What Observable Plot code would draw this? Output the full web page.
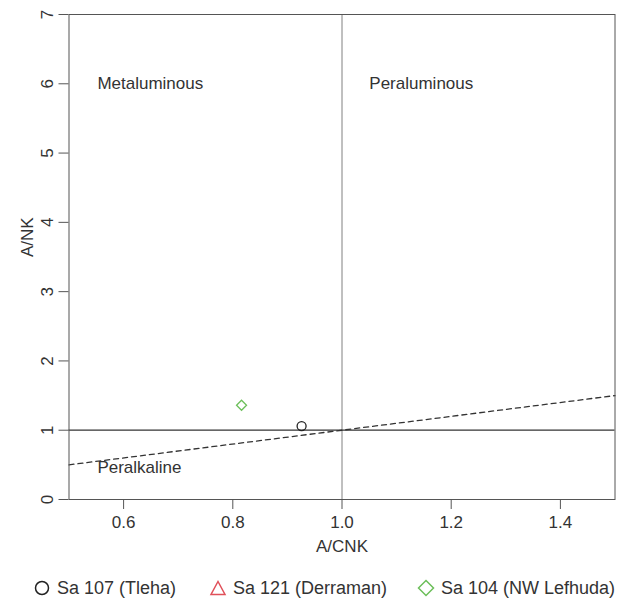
<!DOCTYPE html>
<html>
<head>
<meta charset="utf-8">
<script src="https://cdn.jsdelivr.net/npm/d3@7"></script>
<script src="https://cdn.jsdelivr.net/npm/@observablehq/plot@0.6"></script>
<style>
  body { margin: 0; background: #fff; font-family: "Liberation Sans", Arial, sans-serif; }
  #legend { position: relative; width: 617px; height: 40px; font-size: 18px; color: #333; overflow: hidden; }
  .item { position: absolute; top: 0; height: 40px; display: flex; align-items: center; white-space: nowrap; }
  .item svg { margin-right: 6px; }
</style>
</head>
<body>
<div id="chart"></div>
<div id="legend"></div>
<script>
// Samples (A/CNK, A/NK); Sa 121 not visible within the plotted range
const samples = ["Sa 107 (Tleha)", "Sa 121 (Derraman)", "Sa 104 (NW Lefhuda)"];
const sampleACNK = [0.926, null, 0.816];
const sampleANK = [1.06, null, 1.36];
const sampleSymbols = ["circle", "triangle", "diamond2"];
const sampleColors = ["#222222", "#e0505a", "#6cbf5a"];

const xTicks = [0.6, 0.8, 1.0, 1.2, 1.4];
const yTicks = [0, 1, 2, 3, 4, 5, 6, 7];

// Field names and their anchor positions (data units)
const fieldNames = ["Metaluminous", "Peraluminous", "Peralkaline"];
const fieldACNK = [0.552, 1.05, 0.552];
const fieldANK = [6, 6, 0.46];

// Dashed divide line A/NK = A/CNK
const divideACNK = [0.5, 1.5];
const divideANK = [0.5, 1.5];

const points = samples.map((s, i) => ({name: s, x: sampleACNK[i], y: sampleANK[i], color: sampleColors[i]}))
  .filter(d => d.x != null);
const fields = fieldNames.map((t, i) => ({t, x: fieldACNK[i], y: fieldANK[i]}));
const divide = divideACNK.map((x, i) => ({x, y: divideANK[i]}));

const plot = Plot.plot({
  width: 617,
  height: 568,
  marginLeft: 68.5,
  marginRight: 2.5,
  marginTop: 14,
  marginBottom: 69,
  style: {fontFamily: "'Liberation Sans', Arial, sans-serif", fontSize: "17px", color: "#333", background: "#fff"},
  x: {domain: [0.5, 1.5]},
  y: {domain: [0, 7]},
  symbol: {domain: samples, range: sampleSymbols},
  marks: [
    Plot.ruleX([1], {stroke: "#808080", strokeWidth: 1}),
    Plot.ruleY([1], {stroke: "#333", strokeWidth: 1.3}),
    Plot.line(divide, {x: "x", y: "y", stroke: "#333", strokeWidth: 1.3, strokeDasharray: "5,4"}),
    Plot.dot(points, {x: "x", y: "y", symbol: "name", stroke: "color", r: 4.5, strokeWidth: 1.3}),
    Plot.text(fields, {x: "x", y: "y", text: "t", textAnchor: "start", fill: "#333", fontSize: 17}),
    Plot.frame({stroke: "#555"}),
    Plot.axisX({ticks: xTicks, tickSize: 10, tickPadding: 6, tickFormat: d3.format(".1f"), label: null, stroke: "#555", fill: "#333"}),
    Plot.axisY({ticks: yTicks, tickSize: 10, tickFormat: () => "", label: null, stroke: "#555"}),
    Plot.axisY({ticks: yTicks, tickSize: 0, tickPadding: 21, tickFormat: d3.format("d"), rotate: -90, textAnchor: "middle", label: null, fill: "#333"}),
    Plot.text(["A/CNK"], {text: d => d, frameAnchor: "bottom", dy: 52, fill: "#333"}),
    Plot.text(["A/NK"], {text: d => d, frameAnchor: "left", dx: -41, rotate: -90, fill: "#333"})
  ]
});
document.getElementById("chart").appendChild(plot);

// Legend
const legendLefts = [33, 209, 417];
const symbolPaths = {
  circle: '<circle cx="9" cy="9" r="6.5"/>',
  triangle: '<path d="M9,2.5 L16,15.5 L2,15.5 Z"/>',
  diamond2: '<path d="M9,1.5 L16.5,9 L9,16.5 L1.5,9 Z"/>'
};
const legend = document.getElementById("legend");
samples.forEach((s, i) => {
  const div = document.createElement("div");
  div.className = "item";
  div.style.left = legendLefts[i] + "px";
  div.innerHTML = `<svg width="18" height="18" fill="none" stroke="${sampleColors[i]}" stroke-width="1.5">${symbolPaths[sampleSymbols[i]]}</svg><span>${s}</span>`;
  legend.appendChild(div);
});
</script>
</body>
</html>
